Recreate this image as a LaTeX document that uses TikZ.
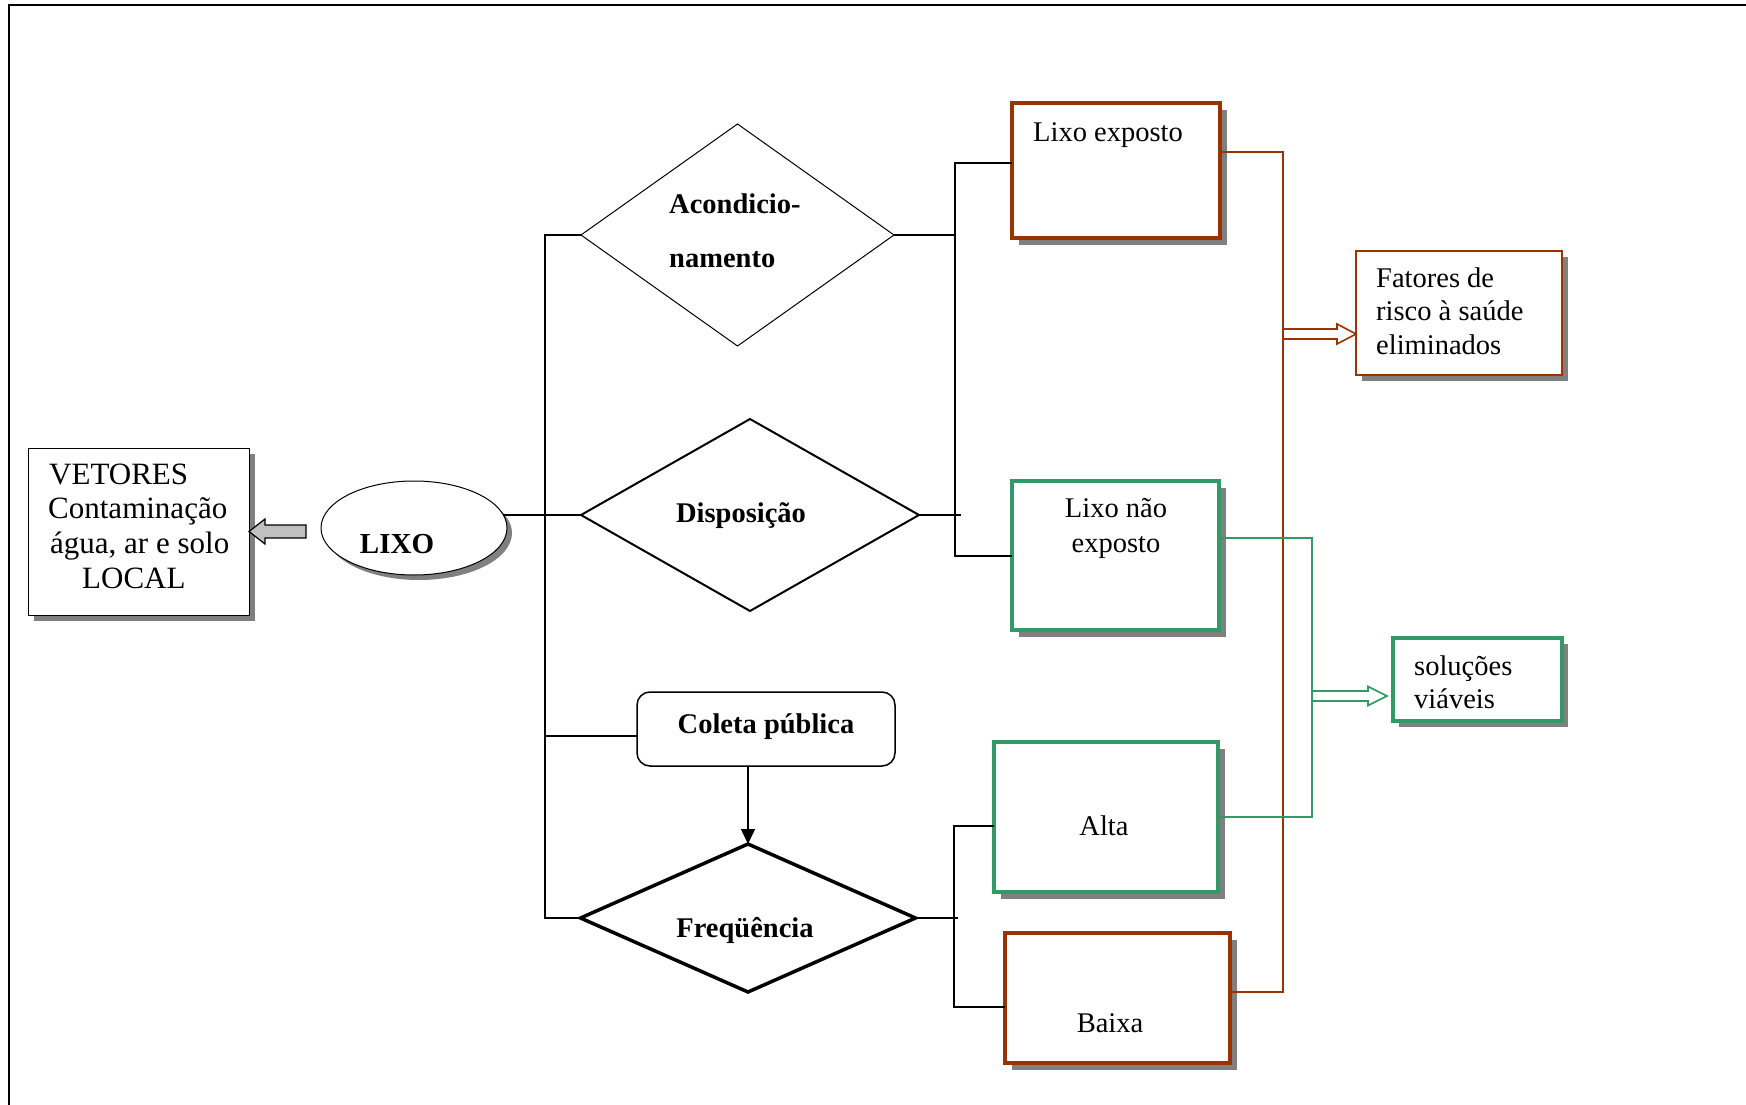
\documentclass[tikz,border=0pt]{standalone}
\usepackage{fontspec}
\setmainfont{Liberation Serif}
\usetikzlibrary{shapes.geometric,shadows,calc,arrows.meta}
\definecolor{rust}{HTML}{993300}
\definecolor{leaf}{HTML}{339966}
\definecolor{shade}{HTML}{808080}
\definecolor{pale}{HTML}{C0C0C0}
\begin{document}
\begin{tikzpicture}[x=1pt,y=-1pt,
  bare/.style={inner sep=0pt,outer sep=0pt},
  dropped/.style={drop shadow={shadow xshift=#1,shadow yshift=-#1,fill=shade,opacity=1}},
  plaintext/.style={inner sep=0pt,font=\fontsize{28.5}{34}\selectfont},
  boldtext/.style={inner sep=0pt,font=\fontsize{28.5}{34}\selectfont\bfseries},
  bigtext/.style={inner sep=0pt,font=\fontsize{31}{35}\selectfont},
  rustbox/.style={bare,draw=rust,fill=white,line width=4pt,dropped=7pt},
  leafbox/.style={bare,draw=leaf,fill=white,line width=4pt,dropped=7pt},
  wire/.style={line width=1.6pt,black},
  rustwire/.style={line width=1.8pt,rust},
  leafwire/.style={line width=1.8pt,leaf}]
\useasboundingbox (0,0) rectangle (1746,1105);

% outer frame
\draw[line width=2.5pt] (9,1105) -- (9,5) -- (1746,5);

% left part: waste and its local effects
\node[bare,draw,fill=white,line width=1pt,minimum width=221pt,minimum height=167pt,dropped=6pt] (vet) at (138.5,531.5) {};
\node[bigtext,anchor=base west] (vt1) at (49,484) {VETORES};
\node[bigtext,anchor=base west] (vt2) at (48,518) {Contaminação};
\node[bigtext,anchor=base west] (vt3) at (50,553) {água, ar e solo};
\node[bigtext,anchor=base west] (vt4) at (82,588) {LOCAL};

\node[bare,ellipse,draw,fill=white,line width=1pt,minimum width=186pt,minimum height=94pt,dropped=5pt] (lixo) at (414,528) {};
\node[inner sep=0pt,font=\fontsize{29}{34}\selectfont\bfseries,anchor=base] (lixotxt) at (397,553) {LIXO};

\draw[line width=1.2pt,fill=pale] (vet.east) -- ++(16,-12.5) -- ++(0,6) -- ++(41,0) -- ++(0,13) -- ++(-41,0) -- ++(0,6) -- cycle;

% decision shapes
\node[bare,diamond,draw,line width=1pt,minimum width=313pt,minimum height=222pt] (acond) at (737.5,235) {};
\node[boldtext,anchor=base west] (ac1) at (669,213) {Acondicio-};
\node[boldtext,anchor=base west] (ac2) at (669,267) {namento};

\node[bare,diamond,draw,line width=2pt,minimum width=338pt,minimum height=192pt] (disp) at (750,515) {};
\node[boldtext,anchor=base] (disptxt) at (741,522) {Disposição};

\node[bare,draw,rounded corners=13pt,line width=1.5pt,minimum width=258pt,minimum height=74pt] (coleta) at (766,729) {};
\node[boldtext,anchor=base] (coltxt) at (766,733) {Coleta pública};

\node[bare,diamond,draw,line width=3.5pt,minimum width=335pt,minimum height=148pt] (freq) at (748,918) {};
\node[boldtext,anchor=base] (freqtxt) at (745,937) {Freqüência};

% outcome boxes
\node[rustbox,minimum width=208pt,minimum height=135pt] (lexp) at (1115.5,170.5) {};
\node[plaintext,anchor=base west] (lextxt) at (1033,142) {Lixo exposto};

\node[leafbox,minimum width=207pt,minimum height=149pt] (lnexp) at (1115.5,555.5) {};
\node[plaintext,anchor=base] (lnt1) at (1116,517) {Lixo não};
\node[plaintext,anchor=base] (lnt2) at (1116,552) {exposto};

\node[leafbox,minimum width=224pt,minimum height=150pt] (alta) at (1106,817) {};
\node[plaintext,anchor=base] (altatxt) at (1104,835) {Alta};

\node[rustbox,minimum width=225pt,minimum height=130pt] (baixa) at (1117.5,998) {};
\node[plaintext,anchor=base] (baixatxt) at (1110,1032) {Baixa};

\node[bare,draw=rust,fill=white,line width=2pt,minimum width=206pt,minimum height=124pt,dropped=6pt] (fat) at (1459,313) {};
\node[plaintext,anchor=base west] (ft1) at (1376,287) {Fatores de};
\node[plaintext,anchor=base west] (ft2) at (1376,320) {risco à saúde};
\node[plaintext,anchor=base west] (ft3) at (1376,354) {eliminados};

\node[bare,draw=leaf,fill=white,line width=3.5pt,minimum width=169pt,minimum height=83pt,dropped=6pt] (sol) at (1477.5,679.5) {};
\node[plaintext,anchor=base west] (st1) at (1414,675) {soluções};
\node[plaintext,anchor=base west] (st2) at (1414,708) {viáveis};

% main bus from the waste to the three aspects
\coordinate (bt) at (545,235);
\coordinate (bb) at (545,918);
\draw[wire] (acond.west) -- (bt) -- (bb) -- (freq.west);
\draw[wire] (disp.west -| lixo.9) -- (disp.west);
\draw[wire] (bt |- 0,736) -- (coleta.west |- 0,736);
\draw[line width=1.5pt,-{Triangle[length=15pt,width=14pt]}] (coleta.south -| freq.north) -- (freq.north);

% branches of conditioning / disposal
\coordinate (ja) at (955,235);
\coordinate (jt) at (955,163);
\coordinate (jb) at (955,556);
\draw[line width=2pt] (acond.east) -- (ja);
\draw[line width=2pt] (jt -| lexp.west) -- (jt) -- (jb) -- (jb -| lnexp.west);
\draw[line width=2pt] (disp.east) -- ($(disp.east -| ja)+(6,0)$);

% branches of collection frequency
\coordinate (fa) at (954,826);
\coordinate (fb) at (954,1007);
\draw[wire] (freq.east) -- ($(freq.east -| fa)+(4,0)$);
\draw[wire] (fa -| alta.west) -- (fa) -- (fb) -- (fb -| baixa.west);

% brown collector to risk factors
\coordinate (rt) at (1283,152);
\coordinate (rb) at (1283,992);
\draw[rustwire] (rt -| lexp.east) -- (rt) -- (rb) -- (rb -| baixa.east);
\coordinate (ra) at (1283,334);
\draw[rust,line width=1.6pt,fill=white] ($(ra)+(0,-5)$) -- ++(54,0) -- ++(0,-5) -- (ra -| fat.west) -- ($(ra)+(54,10)$) -- ++(0,-5) -- ($(ra)+(0,5)$) -- cycle;

% green collector to viable solutions
\coordinate (gt) at (1312,538);
\coordinate (gb) at (1312,817);
\draw[leafwire] (gt -| lnexp.east) -- (gt) -- (gb) -- (gb -| alta.east);
\coordinate (ga) at (1312,696);
\draw[leaf,line width=1.6pt,fill=white] ($(ga)+(0,-5)$) -- ++(56,0) -- ++(0,-4.5) -- ($(ga -| sol.west)+(-6,0)$) -- ($(ga)+(56,9.5)$) -- ++(0,-4.5) -- ($(ga)+(0,5)$) -- cycle;
\end{tikzpicture}
\end{document}
